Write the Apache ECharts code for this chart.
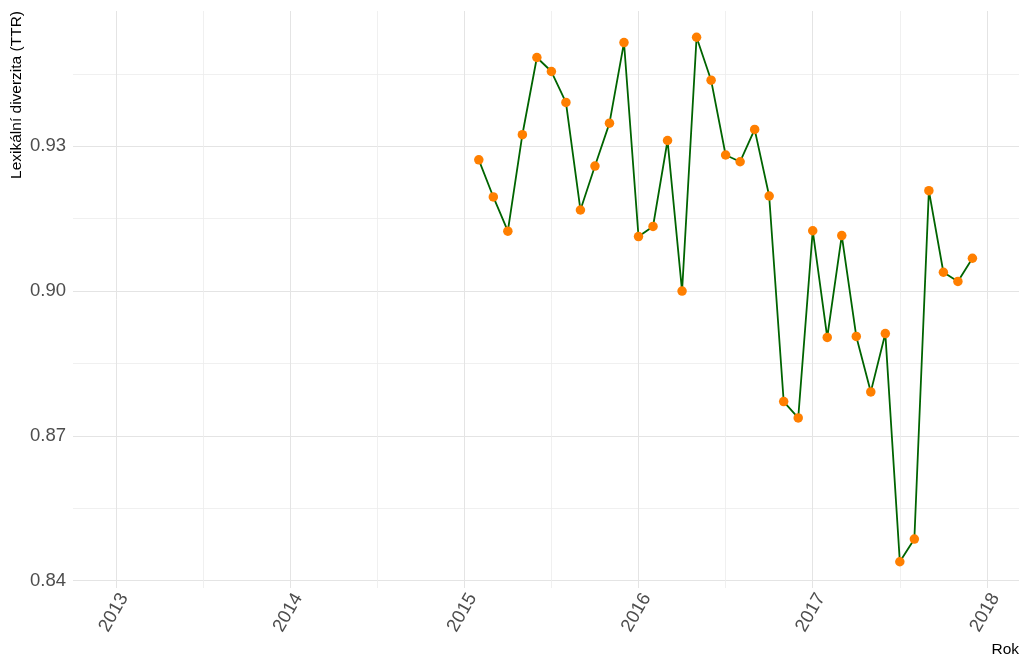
<!DOCTYPE html>
<html>
<head>
	<meta charset="utf-8">
	<title>TTR</title>
	<script src="https://cdn.jsdelivr.net/npm/echarts@6/dist/echarts.min.js"></script>
	<style type="text/css">
		*{margin:0;padding:0;}
		body{background:#fff;}
		#main{width:1024px;height:660px;}
	</style>
</head>
<body>
	<div id="main"></div>
	<script type="text/javascript">
		// mesice (prvni den v mesici) a hodnoty TTR
		var months = ['2015-02','2015-03','2015-04','2015-05','2015-06','2015-07','2015-08','2015-09','2015-10','2015-11','2015-12',
			'2016-01','2016-02','2016-03','2016-04','2016-05','2016-06','2016-07','2016-08','2016-09','2016-10','2016-11','2016-12',
			'2017-01','2017-02','2017-03','2017-04','2017-05','2017-06','2017-07','2017-08','2017-09','2017-10','2017-11','2017-12'];
		var ttr = [0.9272,0.9195,0.9124,0.9324,0.9484,0.9455,0.9391,0.9168,0.9259,0.9348,0.9515,
			0.9113,0.9134,0.9312,0.9000,0.9526,0.9437,0.9282,0.9268,0.9335,0.9197,0.8771,0.8737,
			0.9125,0.8904,0.9115,0.8906,0.8791,0.8912,0.8439,0.8486,0.9208,0.9039,0.9020,0.9068];

		var xTicks = [2013, 2014, 2015, 2016, 2017, 2018];
		var xMinor = [2013.5, 2014.5, 2015.5, 2016.5, 2017.5];
		var yTicks = [0.84, 0.87, 0.90, 0.93];
		var yMinor = [0.855, 0.885, 0.915, 0.945];

		var font = 'Liberation Sans, Arial, sans-serif';

		function toYear(s){
			var p = s.split('-');
			return +p[0] + (+p[1] - 1) / 12;
		}
		var points = months.map(function(m, i){ return [toYear(m), ttr[i]]; });

		var xMin = 2012.754, xMax = 2018.184;
		var yMin = 0.83846, yMax = 0.95804;

		var myChart = echarts.init(document.getElementById('main'));
		var option = {
			animation: false,
			backgroundColor: '#fff',
			grid: {left: 73, right: 5, top: 11, bottom: 72, containLabel: false, outerBoundsMode: 'none'},
			xAxis: [{
				type: 'value', min: xMin, max: xMax,
				axisLine: {show: false},
				axisTick: {show: false, customValues: xTicks},
				axisLabel: {
					customValues: xTicks, rotate: 60, margin: 2, verticalAlign: 'top',
					color: '#4d4d4d', fontSize: 18.5, fontFamily: font,
					formatter: function(v){ return String(Math.round(v)); }
				},
				splitLine: {show: true, lineStyle: {color: '#e4e4e4', width: 1}}
			}, {
				type: 'value', min: xMin, max: xMax, position: 'bottom',
				axisLine: {show: false},
				axisTick: {show: false, customValues: xMinor},
				axisLabel: {show: false},
				splitLine: {show: true, lineStyle: {color: '#ececec', width: 0.8}}
			}],
			yAxis: [{
				type: 'value', min: yMin, max: yMax, position: 'left',
				axisLine: {show: false},
				axisTick: {show: false, customValues: yTicks},
				axisLabel: {
					customValues: yTicks, margin: 7,
					color: '#4d4d4d', fontSize: 18.5, fontFamily: font,
					formatter: function(v){ return v.toFixed(2); }
				},
				splitLine: {show: true, lineStyle: {color: '#e4e4e4', width: 1}}
			}, {
				type: 'value', min: yMin, max: yMax, position: 'left',
				axisLine: {show: false},
				axisTick: {show: false, customValues: yMinor},
				axisLabel: {show: false},
				splitLine: {show: true, lineStyle: {color: '#ececec', width: 0.8}}
			}],
			graphic: [{
				type: 'text', x: 17, y: 11, rotation: Math.PI / 2,
				style: {text: 'Lexikální diverzita (TTR)', fill: '#000', fontSize: 15.5, fontFamily: font,
					align: 'right', verticalAlign: 'middle'}
			}, {
				type: 'text', x: 1019, y: 650,
				style: {text: 'Rok', fill: '#000', fontSize: 15.5, fontFamily: font,
					align: 'right', verticalAlign: 'middle'}
			}],
			series: [{
				type: 'line',
				xAxisIndex: 0, yAxisIndex: 0,
				data: points,
				lineStyle: {color: '#006400', width: 1.8},
				symbol: 'circle', symbolSize: 9.5,
				itemStyle: {color: '#ff7f00', borderWidth: 0},
				z: 5
			}]
		};
		myChart.setOption(option);
	</script>
</body>
</html>
